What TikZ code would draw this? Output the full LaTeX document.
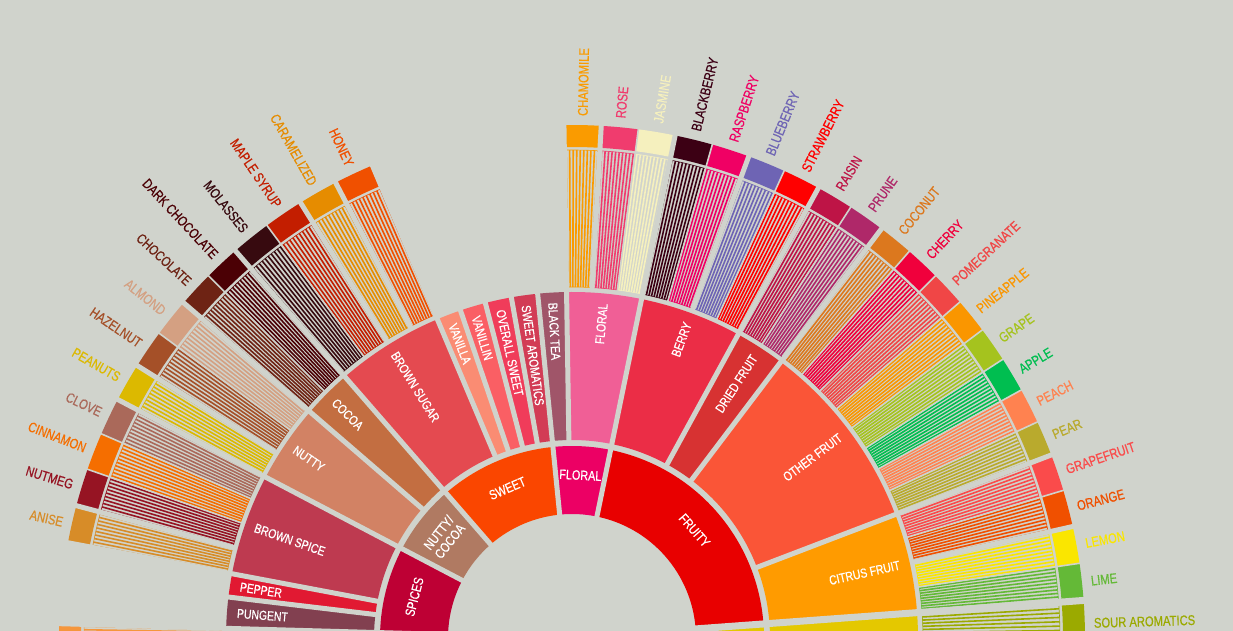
\documentclass[tikz,border=0pt]{standalone}
\usepackage{fontspec}
\setmainfont{Liberation Sans}[FakeStretch=0.8,FakeBold=0.6]
\definecolor{bgc}{RGB}{208,211,204}
% level 1
\definecolor{cSpices}{RGB}{190,0,52}
\definecolor{cNuttyCocoa}{RGB}{176,122,98}
\definecolor{cSweet}{RGB}{250,70,0}
\definecolor{cFloralA}{RGB}{236,0,100}
\definecolor{cFruity}{RGB}{232,0,0}
\definecolor{cSourA}{RGB}{226,200,0}
\definecolor{cRoastA}{RGB}{240,140,60}
% level 2
\definecolor{cBrownSpice}{RGB}{190,58,80}
\definecolor{cPepper}{RGB}{225,25,50}
\definecolor{cPungent}{RGB}{130,64,80}
\definecolor{cNutty}{RGB}{210,130,100}
\definecolor{cCocoa}{RGB}{195,110,65}
\definecolor{cBrownSugar}{RGB}{228,74,80}
\definecolor{cVanilla}{RGB}{250,140,115}
\definecolor{cVanillin}{RGB}{250,95,100}
\definecolor{cOverall}{RGB}{240,60,90}
\definecolor{cSweetArom}{RGB}{210,60,85}
\definecolor{cBlackTea}{RGB}{160,85,105}
\definecolor{cFloralB}{RGB}{240,95,150}
\definecolor{cBerry}{RGB}{235,45,70}
\definecolor{cDried}{RGB}{215,50,50}
\definecolor{cOther}{RGB}{250,85,55}
\definecolor{cCitrus}{RGB}{255,155,0}
\definecolor{cSourB}{RGB}{228,200,0}
\definecolor{cRoastB}{RGB}{245,175,115}
% level 3
\definecolor{cAnise}{RGB}{215,140,40}
\definecolor{cNutmeg}{RGB}{150,20,35}
\definecolor{cCinnamon}{RGB}{245,110,0}
\definecolor{cClove}{RGB}{170,105,90}
\definecolor{cPeanuts}{RGB}{220,185,0}
\definecolor{cHazelnut}{RGB}{165,80,40}
\definecolor{cAlmond}{RGB}{212,160,130}
\definecolor{cChocolate}{RGB}{110,35,20}
\definecolor{cDarkChoc}{RGB}{75,0,5}
\definecolor{cMolasses}{RGB}{55,10,15}
\definecolor{cMaple}{RGB}{195,30,0}
\definecolor{cCaramel}{RGB}{230,140,0}
\definecolor{cHoney}{RGB}{240,80,0}
\definecolor{cChamomile}{RGB}{250,155,0}
\definecolor{cRose}{RGB}{240,60,110}
\definecolor{cJasmine}{RGB}{245,240,190}
\definecolor{cBlackberry}{RGB}{60,0,20}
\definecolor{cRaspberry}{RGB}{240,0,100}
\definecolor{cBlueberry}{RGB}{110,100,180}
\definecolor{cStrawberry}{RGB}{255,0,0}
\definecolor{cRaisin}{RGB}{190,20,70}
\definecolor{cPrune}{RGB}{175,40,105}
\definecolor{cCoconut}{RGB}{220,120,30}
\definecolor{cCherry}{RGB}{240,0,60}
\definecolor{cPomegranate}{RGB}{240,70,70}
\definecolor{cPineapple}{RGB}{250,150,0}
\definecolor{cGrape}{RGB}{165,195,30}
\definecolor{cApple}{RGB}{0,190,80}
\definecolor{cPeach}{RGB}{255,130,80}
\definecolor{cPear}{RGB}{185,170,45}
\definecolor{cGrapefruit}{RGB}{250,75,75}
\definecolor{cOrange}{RGB}{240,80,0}
\definecolor{cLemon}{RGB}{250,230,0}
\definecolor{cLime}{RGB}{100,185,55}
\definecolor{cSourArom}{RGB}{155,170,0}
\definecolor{cRoastC}{RGB}{245,150,60}

% annular sector: start, end, inner r, outer r, colour
\newcommand\annsec[5]{%
  \fill[#5] (#1:#3pt) arc[start angle=#1,end angle=#2,radius=#3pt]
    -- (#2:#4pt) arc[start angle=#2,end angle=#1,radius=#4pt] -- cycle;}
% striped band + box of a leaf
\newcommand\leafbody[3]{%
  \pgfmathsetmacro\lA{#1}\pgfmathsetmacro\lB{#2}%
  \foreach \k in {0,...,9}{%
    \pgfmathsetmacro\lAng{\lA+(\k+0.5)*(\lB-\lA)/10}%
    \draw[#3,line width=1.6pt] (\lAng:351pt) -- (\lAng:488pt);}%
  \draw[#3,line width=0.6pt] (\lA:488pt) arc[start angle=\lA,end angle=\lB,radius=488pt];
  \draw[#3,line width=0.6pt] (\lA:351pt) arc[start angle=\lA,end angle=\lB,radius=351pt];
  \annsec{\lA}{\lB}{491}{513}{#3}}
% leaf with label: name, a1, a2, colour, text
\newcommand\leaf[5]{%
  \leafbody{#2}{#3}{#4}%
  \pgfmathsetmacro\lMid{(#2+#3)/2}%
  \ifdim\lMid pt>90pt
    \pgfmathsetmacro\lRot{\lMid-180}%
    \node[leaflab,text=#4,rotate=\lRot,anchor=east] (#1) at (\lMid:522pt) {#5};
  \else
    \node[leaflab,text=#4,rotate=\lMid,anchor=west] (#1) at (\lMid:522pt) {#5};
  \fi}
% level 2 segment: name, a1, a2, colour, text
\newcommand\segtwo[5]{%
  \annsec{#2}{#3}{198}{346}{#4}%
  \pgfmathsetmacro\sMid{(#2+#3)/2}%
  \ifdim\sMid pt>90pt
    \pgfmathsetmacro\sRot{\sMid-180}%
    \node[twolab,rotate=\sRot,anchor=west] (#1) at (\sMid:336pt) {#5};
  \else
    \node[twolab,rotate=\sMid,anchor=east] (#1) at (\sMid:336pt) {#5};
  \fi}
% level 1 segment: name, a1, a2, colour, text
\newcommand\segone[5]{%
  \annsec{#2}{#3}{124}{192}{#4}%
  \pgfmathsetmacro\oMid{(#2+#3)/2}%
  \pgfmathsetmacro\oRot{\oMid-90}%
  \node[onelab,rotate=\oRot] (#1) at (\oMid:163pt) {#5};}
% gap line: angle, r1, r2, width
\newcommand\gapline[4]{\draw[bgc,line width=#4pt] (#1:#2pt) -- (#1:#3pt);}

\begin{document}
\begin{tikzpicture}[x=1pt,y=1pt,
  leaflab/.style={font=\fontsize{14}{14}\selectfont,inner sep=0pt},
  twolab/.style={font=\fontsize{13}{13}\selectfont,text=white,inner sep=0pt},
  onelab/.style={font=\fontsize{13.5}{14}\selectfont,text=white,inner sep=0pt,align=center}]
\useasboundingbox (-572,7) rectangle (661,638);
\fill[bgc] (-572,7) rectangle (661,638);
\clip (-572,7) rectangle (661,638);

% ---------- level 1 ----------
\annsec{178.4}{210}{124}{192}{cRoastA}
\segone{spices}{152.3}{178.4}{cSpices}{SPICES}
\segone{nuttycocoa}{131}{152.3}{cNuttyCocoa}{NUTTY/\\COCOA}
\segone{sweet}{95.7}{131}{cSweet}{SWEET}
\segone{floral1}{78.4}{95.7}{cFloralA}{FLORAL}
\segone{fruity}{4.2}{78.4}{cFruity}{FRUITY}
\annsec{-30}{4.2}{124}{192}{cSourA}

% ---------- level 2 ----------
\annsec{178.4}{210}{198}{346}{cRoastB}
\segtwo{pungent}{173.2}{178.4}{cPungent}{PUNGENT}
\segtwo{pepper}{169.3}{173.2}{cPepper}{PEPPER}
\segtwo{brownspice}{152.3}{169.3}{cBrownSpice}{BROWN SPICE}
\segtwo{nutty}{139.2}{152.3}{cNutty}{NUTTY}
\segtwo{cocoa}{131}{139.2}{cCocoa}{COCOA}
\segtwo{brownsugar}{112.9}{131}{cBrownSugar}{BROWN SUGAR}
\segtwo{vanilla}{108.8}{112.9}{cVanilla}{VANILLA}
\segtwo{vanillin}{104.5}{108.8}{cVanillin}{VANILLIN}
\segtwo{overallsweet}{100.1}{104.5}{cOverall}{OVERALL SWEET}
\segtwo{sweetaromatics}{95.7}{100.1}{cSweetArom}{SWEET AROMATICS}
\segtwo{blacktea}{90.9}{95.7}{cBlackTea}{BLACK TEA}
\segtwo{floral2}{78.4}{90.9}{cFloralB}{FLORAL}
\segtwo{berry}{61.3}{78.4}{cBerry}{BERRY}
\segtwo{driedfruit}{52.9}{61.3}{cDried}{DRIED FRUIT}
\segtwo{otherfruit}{20.9}{52.9}{cOther}{OTHER FRUIT}
\segtwo{citrusfruit}{4.2}{20.9}{cCitrus}{CITRUS FRUIT}
\annsec{-30}{4.2}{198}{346}{cSourB}

% ---------- level 3 ----------
\leafbody{178.4}{182.6}{cRoastC}
\leaf{anise}{165.05}{169.3}{cAnise}{ANISE}
\leaf{nutmeg}{160.8}{165.05}{cNutmeg}{NUTMEG}
\leaf{cinnamon}{156.55}{160.8}{cCinnamon}{CINNAMON}
\leaf{clove}{152.3}{156.55}{cClove}{CLOVE}
\leaf{peanuts}{147.93}{152.3}{cPeanuts}{PEANUTS}
\leaf{hazelnut}{143.57}{147.93}{cHazelnut}{HAZELNUT}
\leaf{almond}{139.2}{143.57}{cAlmond}{ALMOND}
\leaf{chocolate}{135.1}{139.2}{cChocolate}{CHOCOLATE}
\leaf{darkchocolate}{131}{135.1}{cDarkChoc}{DARK CHOCOLATE}
\leaf{molasses}{126.48}{131}{cMolasses}{MOLASSES}
\leaf{maplesyrup}{121.95}{126.48}{cMaple}{MAPLE SYRUP}
\leaf{caramelized}{117.43}{121.95}{cCaramel}{CARAMELIZED}
\leaf{honey}{112.9}{117.43}{cHoney}{HONEY}
\leaf{chamomile}{86.73}{90.9}{cChamomile}{CHAMOMILE}
\leaf{rose}{82.57}{86.73}{cRose}{ROSE}
\leaf{jasmine}{78.4}{82.57}{cJasmine}{JASMINE}
\leaf{blackberry}{74.125}{78.4}{cBlackberry}{BLACKBERRY}
\leaf{raspberry}{69.85}{74.125}{cRaspberry}{RASPBERRY}
\leaf{blueberry}{65.575}{69.85}{cBlueberry}{BLUEBERRY}
\leaf{strawberry}{61.3}{65.575}{cStrawberry}{STRAWBERRY}
\leaf{raisin}{57.1}{61.3}{cRaisin}{RAISIN}
\leaf{prune}{52.9}{57.1}{cPrune}{PRUNE}
\leaf{coconut}{48.9}{52.9}{cCoconut}{COCONUT}
\leaf{cherry}{44.9}{48.9}{cCherry}{CHERRY}
\leaf{pomegranate}{40.9}{44.9}{cPomegranate}{POMEGRANATE}
\leaf{pineapple}{36.9}{40.9}{cPineapple}{PINEAPPLE}
\leaf{grape}{32.9}{36.9}{cGrape}{GRAPE}
\leaf{apple}{28.9}{32.9}{cApple}{APPLE}
\leaf{peach}{24.9}{28.9}{cPeach}{PEACH}
\leaf{pear}{20.9}{24.9}{cPear}{PEAR}
\leaf{grapefruit}{16.725}{20.9}{cGrapefruit}{GRAPEFRUIT}
\leaf{orange}{12.55}{16.725}{cOrange}{ORANGE}
\leaf{lemon}{8.375}{12.55}{cLemon}{LEMON}
\leaf{lime}{4.2}{8.375}{cLime}{LIME}
\leaf{souraromatics}{-0.9}{4.2}{cSourArom}{SOUR AROMATICS}

% ---------- gaps ----------
% level-1 boundaries
\foreach \g in {78.4,95.7,131,152.3,178.4}{\gapline{\g}{118}{520}{5}}
\gapline{4.2}{118}{520}{7}
% level-2 boundaries
\foreach \g in {20.9,52.9,61.3,90.9,100.1,104.5,108.8,112.9,139.2,169.3,173.2}{\gapline{\g}{195}{520}{5}}
% wide gaps between leaves
\foreach \g in {165.05,147.93,117.43,121.95,86.73,69.85,12.55}{\gapline{\g}{349}{520}{5}}
% thin gaps between leaves
\foreach \g in {156.55,160.8,143.57,135.1,126.48,82.57,74.125,65.575,57.1,24.9,28.9,32.9,36.9,40.9,44.9,48.9,8.375,16.725,-0.9}{\gapline{\g}{349}{516}{1.6}}
\end{tikzpicture}
\end{document}
